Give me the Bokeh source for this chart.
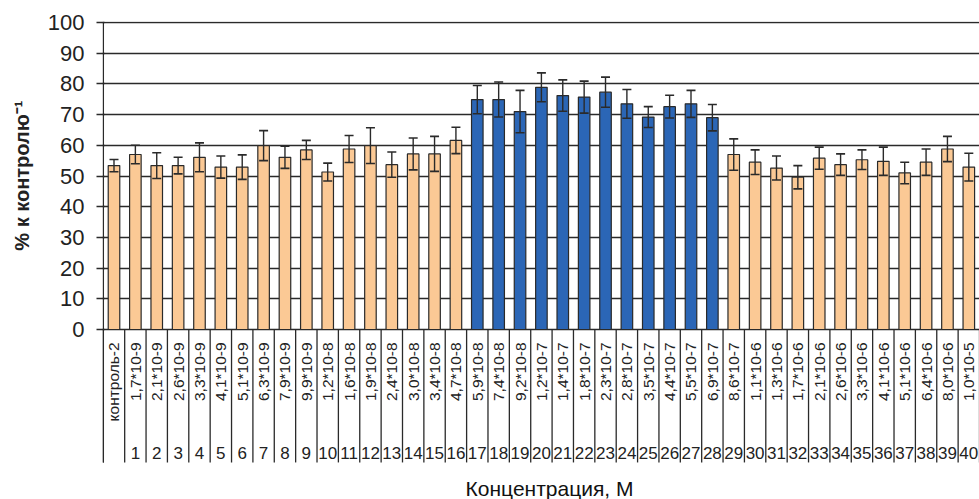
import math
from bokeh.plotting import figure
from bokeh.models import ColumnDataSource, Whisker, TeeHead, FixedTicker, Label, Range1d, Title
from bokeh.core.properties import value
from bokeh.embed import file_html
from bokeh.resources import INLINE

# ---------------- data ----------------
conc_labels = ["контроль-2",
               "1,7*10-9", "2,1*10-9", "2,6*10-9", "3,3*10-9", "4,1*10-9", "5,1*10-9",
               "6,3*10-9", "7,9*10-9", "9,9*10-9",
               "1,2*10-8", "1,6*10-8", "1,9*10-8", "2,4*10-8", "3,0*10-8", "3,4*10-8",
               "4,7*10-8", "5,9*10-8", "7,4*10-8", "9,2*10-8",
               "1,2*10-7", "1,4*10-7", "1,8*10-7", "2,3*10-7", "2,8*10-7", "3,5*10-7",
               "4,4*10-7", "5,5*10-7", "6,9*10-7", "8,6*10-7",
               "1,1*10-6", "1,3*10-6", "1,7*10-6", "2,1*10-6", "2,6*10-6", "3,3*10-6",
               "4,1*10-6", "5,1*10-6", "6,4*10-6", "8,0*10-6",
               "1,0*10-5"]
numbers = [""] + [str(i) for i in range(1, 41)]
values = [53.4, 57.0, 53.4, 53.4, 56.1, 52.9, 52.9, 59.9, 56.1, 58.5,
          51.3, 58.8, 59.9, 53.7, 57.2, 57.2, 61.6, 74.9, 74.9, 71.0,
          78.9, 76.2, 75.7, 77.3, 73.5, 69.2, 72.6, 73.5, 69.0, 57.0,
          54.5, 52.6, 49.6, 55.8, 53.7, 55.3, 54.8, 51.0, 54.5, 58.8,
          52.9]
errors = [2.0, 3.0, 4.2, 2.7, 4.7, 3.6, 4.0, 4.9, 3.6, 3.1,
          2.9, 4.4, 5.8, 4.1, 5.2, 5.7, 4.3, 4.6, 5.7, 6.9,
          4.7, 5.1, 5.2, 4.9, 4.7, 3.4, 3.7, 4.4, 4.3, 5.1,
          4.0, 3.9, 3.8, 3.6, 3.5, 3.2, 4.6, 3.5, 4.3, 4.1,
          4.5]
highlight = list(range(17, 29))  # blue bars
y_ticks = list(range(0, 101, 10))
y_title = "% к контролю\u207B\u00B9"
x_title = "Концентрация, М"

PEACH = "#FBC995"
BLUE = "#2B66B6"
DARK = "#2a2a2a"
FONT = "Liberation Sans"

n = len(values)
xs = list(range(n))
colors = [BLUE if i in highlight else PEACH for i in xs]

src = ColumnDataSource(dict(
    x=xs, top=values, color=colors,
    upper=[v + e for v, e in zip(values, errors)],
    lower=[v - e for v, e in zip(values, errors)],
    lab=conc_labels, num=numbers,
))

# label-table geometry (data units below zero)
LAB_TOP = -4.2
NUM_Y = -40.1
SEP_BOTTOM = -43.3
XTITLE_Y = -51.8

p = figure(width=979, height=499,
           x_range=Range1d(-0.538, 40.50), y_range=Range1d(-55.37, 100.33),
           output_backend="svg", toolbar_location=None, x_axis_location=None,
           min_border_left=102, min_border_right=0, min_border_top=21, min_border_bottom=0)
p.outline_line_color = None
p.background_fill_color = "white"
p.xgrid.visible = False
p.ygrid.ticker = FixedTicker(ticks=y_ticks)
p.ygrid.grid_line_color = DARK
p.ygrid.grid_line_width = 1.4

ax = p.yaxis[0]
ax.ticker = FixedTicker(ticks=y_ticks)
ax.axis_line_color = None
ax.major_tick_line_color = DARK
ax.major_tick_line_width = 1.4
ax.major_tick_in = 2
ax.major_tick_out = 6
ax.minor_tick_line_color = None
ax.major_label_text_font = FONT
ax.major_label_text_font_size = "22px"
ax.major_label_text_color = "#222222"
ax.major_label_standoff = 12

# y axis title, placed near the top of the frame (left panel, rotated)
p.add_layout(Title(text=y_title, align="right", offset=79, standoff=20,
                   vertical_align="top",
                   text_font=FONT, text_font_style="bold", text_font_size="20px",
                   text_color="#222222"), "left")

# bars
p.vbar(x="x", top="top", width=0.54, source=src, fill_color="color",
       line_color=DARK, line_width=1.2)

# error bars (drawn above the bars)
p.add_layout(Whisker(source=src, base="x", upper="upper", lower="lower",
                     level="overlay", line_color=DARK, line_width=1.4,
                     upper_head=TeeHead(size=9, line_color=DARK, line_width=1.6),
                     lower_head=TeeHead(size=9, line_color=DARK, line_width=1.6)))

# left axis line (through the label table) and category separators
bounds = [i - 0.5 for i in range(n + 1)]
p.segment(x0=[bounds[0]], y0=[SEP_BOTTOM], x1=[bounds[0]], y1=[y_ticks[-1]],
          line_color=DARK, line_width=1.4)
p.segment(x0=bounds, y0=[0] * len(bounds), x1=bounds, y1=[SEP_BOTTOM] * len(bounds),
          line_color=DARK, line_width=1.3)

# rotated concentration labels
p.text(x="x", y=LAB_TOP, text="lab", source=src, angle=math.pi / 2,
       text_align="right", text_baseline="middle",
       text_font=value(FONT), text_font_size="15.5px", text_color="#222222")
# numbers row
p.text(x="x", y=NUM_Y, text="num", source=src,
       text_align="center", text_baseline="middle",
       text_font=value(FONT), text_font_size="17px", text_color="#222222")

# x axis title
p.add_layout(Label(x=20.38, y=XTITLE_Y, text=x_title,
                   text_align="center", text_baseline="alphabetic",
                   text_font=FONT, text_font_size="21px", text_color="#111111"))

open("out.html", "w").write(file_html(p, INLINE))
